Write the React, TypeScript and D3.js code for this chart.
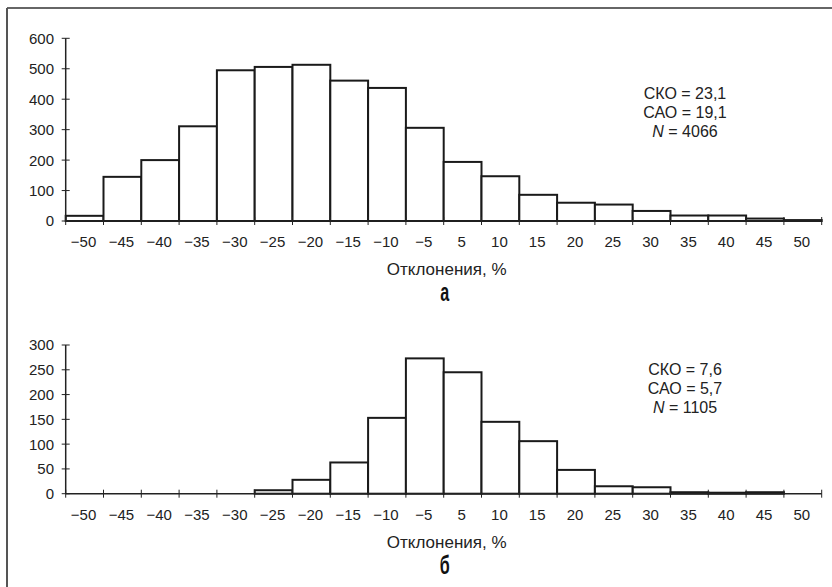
import React from "react";
import * as d3 from "d3";

const categories = ["−50","−45","−40","−35","−30","−25","−20","−15","−10","−5","5","10","15","20","25","30","35","40","45","50"];
const valuesA = [17,145,200,311,495,506,513,461,437,306,194,147,86,60,54,33,18,18,8,3];
const valuesB = [0,0,0,0,0,7,28,63,153,273,245,145,106,48,15,13,3,2,3,0];
const ticksA = [0,100,200,300,400,500,600];
const ticksB = [0,50,100,150,200,250,300];
const statsA = ["СКО = 23,1", "САО = 19,1", "4066"];
const statsB = ["СКО = 7,6", "САО = 5,7", "1105"];
const axisTitle = "Отклонения, %";

const FONT = "'Liberation Sans', Arial, sans-serif";
const INK = "#222";

type PanelProps = {
  values: number[];
  ticks: number[];
  yMax: number;
  y0: number;
  yTop: number;
  stats: string[];
  statsY: number;
  letter: string;
};

function Panel({ values, ticks, yMax, y0, yTop, stats, statsY, letter }: PanelProps) {
  const x = d3.scaleBand<string>().domain(categories).range([65.7, 821.7]).padding(0);
  const y = d3.scaleLinear().domain([0, yMax]).range([y0, yTop]);
  const bw = x.bandwidth();
  const [x0, x1] = x.range();
  const cx = (x0 + x1) / 2;
  return (
    <g>
      {/* bars */}
      {values.map((v, i) =>
        v > 0 ? (
          <rect
            key={i}
            x={x(categories[i])!}
            y={y(v)}
            width={bw}
            height={y(0) - y(v)}
            fill="#fff"
            stroke="#1a1a1a"
            strokeWidth={2}
          />
        ) : null
      )}
      {/* y axis */}
      <line x1={x0} x2={x0} y1={y(0)} y2={y(yMax)} stroke={INK} strokeWidth={1.5} />
      {ticks.map((t) => (
        <g key={t}>
          <line x1={x0 - 4} x2={x0 + 4} y1={y(t)} y2={y(t)} stroke={INK} strokeWidth={1} />
          <text x={54} y={y(t)} dy="0.36em" textAnchor="end" fontSize={15} fontFamily={FONT} fill={INK}>
            {t}
          </text>
        </g>
      ))}
      {/* x axis */}
      <line x1={x0} x2={x1} y1={y(0)} y2={y(0)} stroke={INK} strokeWidth={1.5} />
      {categories.map((c, i) => (
        <line key={"t" + i} x1={x(c)!} x2={x(c)!} y1={y(0) - 4} y2={y(0) + 4} stroke={INK} strokeWidth={1} />
      ))}
      <line x1={x1} x2={x1} y1={y(0) - 4} y2={y(0) + 4} stroke={INK} strokeWidth={1} />
      {categories.map((c) => (
        <text key={"l" + c} x={x(c)! + bw / 2 - 1} y={y(0) + 26} textAnchor="middle" fontSize={15} fontFamily={FONT} fill={INK}>
          {c}
        </text>
      ))}
      <text x={cx + 3} y={y(0) + 54} textAnchor="middle" fontSize={17} fontFamily={FONT} fill={INK}>
        {axisTitle}
      </text>
      <text
        x={0}
        y={0}
        textAnchor="middle"
        fontSize={26}
        fontWeight="bold"
        fontFamily={FONT}
        fill="#111"
        transform={`translate(${cx + 1},${y(0) + 80}) scale(0.62,1)`}
      >
        {letter}
      </text>
      {/* stats */}
      <g fontSize={16} fontFamily={FONT} fill={INK} textAnchor="middle">
        <text x={685} y={statsY}>{stats[0]}</text>
        <text x={685} y={statsY + 19}>{stats[1]}</text>
        <text x={685} y={statsY + 38}>
          <tspan fontStyle="italic">N</tspan> = {stats[2]}
        </text>
      </g>
    </g>
  );
}

export default function App() {
  return (
    <svg
      width={832}
      height={587}
      style={{ position: "absolute", left: 0, top: 0, background: "#fff" }}
    >
      <rect x={0} y={0} width={832} height={587} fill="#fff" />
      {/* frame */}
      <line x1={7} x2={832} y1={8} y2={8} stroke="#333" strokeWidth={1.5} />
      <line x1={7} x2={7} y1={8} y2={587} stroke="#555" strokeWidth={2} />
      <Panel values={valuesA} ticks={ticksA} yMax={600} y0={221} yTop={38.3} stats={statsA} statsY={99} letter="а" />
      <Panel values={valuesB} ticks={ticksB} yMax={300} y0={493.7} yTop={345} stats={statsB} statsY={374.5} letter="б" />
    </svg>
  );
}
